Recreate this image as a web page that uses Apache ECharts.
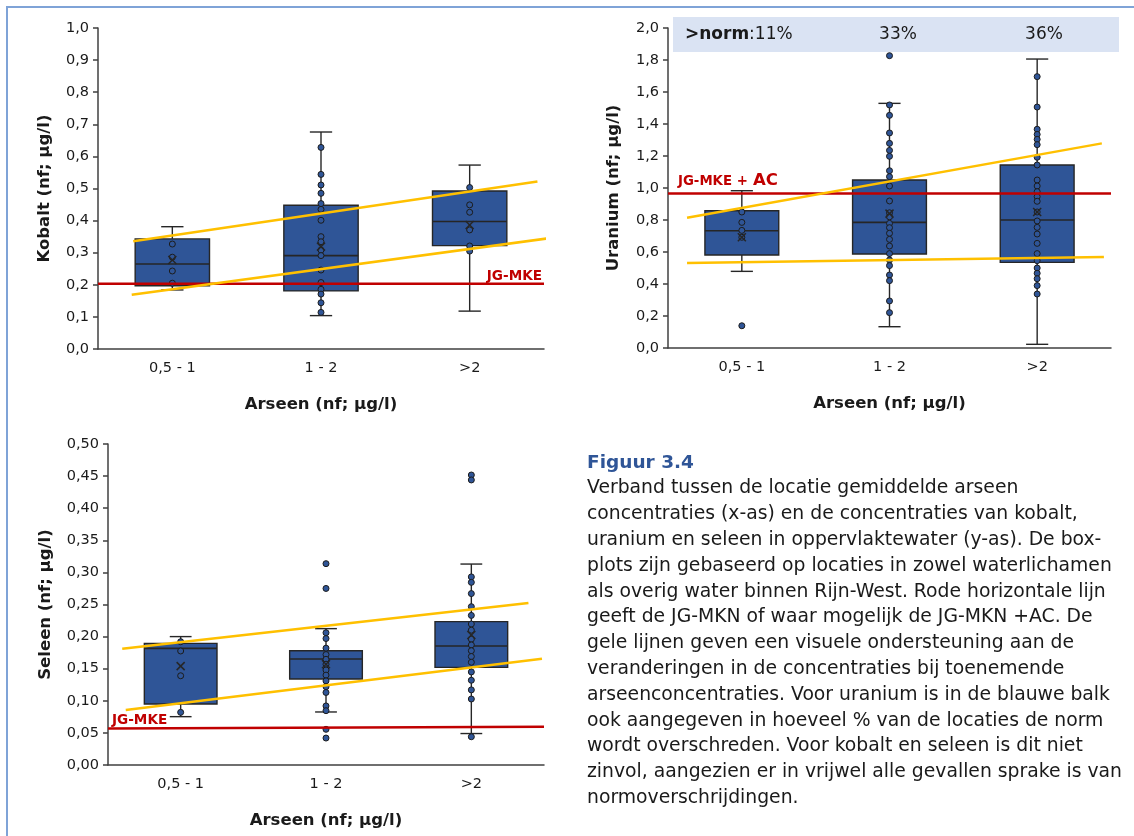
<!DOCTYPE html>
<html><head><meta charset="utf-8">
<script src="https://cdn.jsdelivr.net/npm/echarts@6/dist/echarts.min.js"></script>
<style>html,body{margin:0;padding:0;background:#fff;}#c{width:1134px;height:836px;}</style>
</head><body><div id="c"></div>
<script>
// ---------- DATA ----------
const categories = ['0,5 - 1', '1 - 2', '>2'];

// box statistics per category: [min, q1, median, q3, max, mean]
const kobaltStats = [
  [0.184, 0.197, 0.265, 0.343, 0.381, 0.277],
  [0.104, 0.181, 0.291, 0.448, 0.676, 0.319],
  [0.118, 0.322, 0.397, 0.492, 0.573, 0.386]
];
const kobaltPoints = [
  [0.327, 0.286, 0.243, 0.205],
  [0.628, 0.544, 0.511, 0.485, 0.453, 0.435, 0.401, 0.350, 0.334, 0.308, 0.291, 0.246, 0.207, 0.186, 0.171, 0.144, 0.114],
  [0.503, 0.449, 0.426, 0.371, 0.321, 0.305]
];
const kobaltNorm = [[-0.5, 0.203], [2.5, 0.203]];
const kobaltTrendUpper = [[-0.263, 0.336], [2.456, 0.522]];
const kobaltTrendLower = [[-0.273, 0.169], [2.516, 0.344]];

const uraniumStats = [
  [0.479, 0.581, 0.733, 0.858, 0.983, 0.692],
  [0.133, 0.5875, 0.785, 1.05, 1.529, 0.84],
  [0.023, 0.535, 0.80, 1.144, 1.806, 0.85]
];
const uraniumPoints = [
  [0.85, 0.785, 0.735, 0.692, 0.139],
  [1.827, 1.519, 1.454, 1.344, 1.279, 1.235, 1.198, 1.108, 1.071, 1.0125, 0.919, 0.845, 0.82, 0.779, 0.752, 0.717, 0.679, 0.6375, 0.59, 0.55, 0.515, 0.456, 0.421, 0.294, 0.221],
  [1.696, 1.506, 1.367, 1.335, 1.304, 1.271, 1.192, 1.144, 1.05, 1.0125, 0.977, 0.946, 0.917, 0.85, 0.794, 0.754, 0.7125, 0.654, 0.59, 0.546, 0.5, 0.467, 0.433, 0.39, 0.3375]
];
const uraniumNorm = [[-0.5, 0.965], [2.5, 0.965]];
const uraniumTrendUpper = [[-0.371, 0.814], [2.438, 1.279]];
const uraniumTrendLower = [[-0.371, 0.531], [2.452, 0.569]];
const normPercent = ['11%', '33%', '36%'];

const seleenStats = [
  [0.0753, 0.095, 0.1817, 0.1895, 0.200, 0.154],
  [0.0826, 0.134, 0.165, 0.178, 0.2124, 0.157],
  [0.049, 0.152, 0.1854, 0.2233, 0.313, 0.2025]
];
const seleenPoints = [
  [0.192, 0.1776, 0.139, 0.082],
  [0.3136, 0.275, 0.206, 0.197, 0.182, 0.172, 0.1646, 0.157, 0.148, 0.140, 0.131, 0.122, 0.113, 0.092, 0.0846, 0.0556, 0.042],
  [0.4517, 0.444, 0.293, 0.2845, 0.267, 0.2466, 0.233, 0.2196, 0.210, 0.196, 0.187, 0.178, 0.169, 0.160, 0.145, 0.132, 0.117, 0.1028, 0.044]
];
const seleenNorm = [[-0.5, 0.057], [2.5, 0.0595]];
const seleenTrendUpper = [[-0.402, 0.181], [2.393, 0.2523]];
const seleenTrendLower = [[-0.378, 0.0857], [2.486, 0.1656]];

const captionTitle = 'Figuur 3.4';
const captionLines = [
  'Verband tussen de locatie gemiddelde arseen',
  'concentraties (x-as) en de concentraties van kobalt,',
  'uranium en seleen in oppervlaktewater (y-as). De box-',
  'plots zijn gebaseerd op locaties in zowel waterlichamen',
  'als overig water binnen Rijn-West. Rode horizontale lijn',
  'geeft de JG-MKN of waar mogelijk de JG-MKN +AC. De',
  'gele lijnen geven een visuele ondersteuning aan de',
  'veranderingen in de concentraties bij toenemende',
  'arseenconcentraties. Voor uranium is in de blauwe balk',
  'ook aangegeven in hoeveel % van de locaties de norm',
  'wordt overschreden. Voor kobalt en seleen is dit niet',
  'zinvol, aangezien er in vrijwel alle gevallen sprake is van',
  'normoverschrijdingen.'
];

// ---------- STYLE ----------
const FONT = '"DejaVu Sans", Verdana, sans-serif';
const BOX_FILL = '#2F5597';
const EDGE = '#262626';
const AXIS = '#404040';
const RED = '#C00000';
const YELLOW = '#FFC000';
const TXT = '#1a1a1a';

function boxRender(params, api) {
  const i = api.value(0);
  const mn = api.value(1), q1 = api.value(2), md = api.value(3), q3 = api.value(4), mx = api.value(5);
  const band = api.size([1, 0])[0];
  const bw = band * 0.5, cw = band * 0.15;
  const x = api.coord([i, md])[0];
  const y = v => api.coord([i, v])[1];
  const ls = {stroke: EDGE, lineWidth: 1.4};
  return {type: 'group', children: [
    {type: 'line', shape: {x1: x, y1: y(mx), x2: x, y2: y(q3)}, style: ls},
    {type: 'line', shape: {x1: x - cw / 2, y1: y(mx), x2: x + cw / 2, y2: y(mx)}, style: ls},
    {type: 'line', shape: {x1: x, y1: y(mn), x2: x, y2: y(q1)}, style: ls},
    {type: 'line', shape: {x1: x - cw / 2, y1: y(mn), x2: x + cw / 2, y2: y(mn)}, style: ls},
    {type: 'rect', shape: {x: x - bw / 2, y: y(q3), width: bw, height: y(q1) - y(q3)}, style: {fill: BOX_FILL, stroke: EDGE, lineWidth: 1.4}},
    {type: 'line', shape: {x1: x - bw / 2, y1: y(md), x2: x + bw / 2, y2: y(md)}, style: {stroke: EDGE, lineWidth: 1.6}}
  ]};
}
function meanRender(params, api) {
  const c = api.coord([api.value(0), api.value(6)]);
  const h = 4;
  const ls = {stroke: EDGE, lineWidth: 1.5};
  return {type: 'group', children: [
    {type: 'line', shape: {x1: c[0] - h, y1: c[1] - h, x2: c[0] + h, y2: c[1] + h}, style: ls},
    {type: 'line', shape: {x1: c[0] - h, y1: c[1] + h, x2: c[0] + h, y2: c[1] - h}, style: ls}
  ]};
}

const grids = [
  {left: 98, top: 28, width: 446, height: 321},
  {left: 668, top: 28, width: 443, height: 320},
  {left: 108, top: 444, width: 436, height: 321}
];
const panels = [
  {stats: kobaltStats, points: kobaltPoints, norm: kobaltNorm, up: kobaltTrendUpper, lo: kobaltTrendLower, max: 1, interval: 0.1, dec: 1, name: 'Kobalt (nf; µg/l)', gap: 45},
  {stats: uraniumStats, points: uraniumPoints, norm: uraniumNorm, up: uraniumTrendUpper, lo: uraniumTrendLower, max: 2, interval: 0.2, dec: 1, name: 'Uranium (nf; µg/l)', gap: 46},
  {stats: seleenStats, points: seleenPoints, norm: seleenNorm, up: seleenTrendUpper, lo: seleenTrendLower, max: 0.5, interval: 0.05, dec: 2, name: 'Seleen (nf; µg/l)', gap: 54}
];

const xAxis = [], yAxis = [], series = [];
panels.forEach((p, k) => {
  xAxis.push({
    type: 'category', gridIndex: k, data: categories, boundaryGap: true,
    axisLine: {onZero: false, lineStyle: {color: AXIS, width: 1.5}},
    axisTick: {inside: true, length: 5, lineStyle: {color: AXIS, width: 1.5}},
    axisLabel: {color: TXT, fontSize: 14.5, fontFamily: FONT, margin: 12},
    name: 'Arseen (nf; µg/l)', nameLocation: 'middle', nameGap: 47,
    nameTextStyle: {color: TXT, fontSize: 16.5, fontWeight: 'bold', fontFamily: FONT},
    splitLine: {show: false}
  });
  xAxis.push({type: 'value', gridIndex: k, min: -0.5, max: 2.5, show: false, axisLine: {onZero: false}});
  yAxis.push({
    type: 'value', gridIndex: k, min: 0, max: p.max, interval: p.interval, position: 'left',
    axisLine: {show: true, onZero: false, lineStyle: {color: AXIS, width: 1.5}},
    axisTick: {show: true, inside: false, length: 5, lineStyle: {color: AXIS, width: 1.5}},
    axisLabel: {color: TXT, fontSize: 14.5, fontFamily: FONT, margin: 9,
      formatter: v => v.toFixed(p.dec).replace('.', ',')},
    splitLine: {show: false},
    name: p.name, nameLocation: 'middle', nameGap: p.gap, nameRotate: 90,
    nameTextStyle: {color: TXT, fontSize: 16.5, fontWeight: 'bold', fontFamily: FONT}
  });
  const statData = p.stats.map((s, i) => [i].concat(s));
  series.push({type: 'custom', xAxisIndex: 2 * k, yAxisIndex: k, data: statData, renderItem: boxRender, z: 2, silent: true});
  const pts = [];
  p.points.forEach((arr, i) => arr.forEach(v => pts.push([i, v])));
  series.push({type: 'scatter', xAxisIndex: 2 * k, yAxisIndex: k, data: pts, symbol: 'circle', symbolSize: 6,
    itemStyle: {color: BOX_FILL, borderColor: '#1c1c1c', borderWidth: 1, opacity: 1}, z: 3, silent: true});
  series.push({type: 'custom', xAxisIndex: 2 * k, yAxisIndex: k, data: statData, renderItem: meanRender, z: 4, silent: true});
  series.push({type: 'line', xAxisIndex: 2 * k + 1, yAxisIndex: k, data: p.norm, symbol: 'none', clip: false,
    lineStyle: {color: RED, width: 2.5}, z: 5, silent: true});
  [p.up, p.lo].forEach(d => series.push({type: 'line', xAxisIndex: 2 * k + 1, yAxisIndex: k, data: d, symbol: 'none', clip: false,
    lineStyle: {color: YELLOW, width: 2.5}, z: 6, silent: true}));
});

const graphic = [
  {type: 'rect', z: -10, shape: {x: 7, y: 7, width: 3000, height: 3000}, style: {fill: 'none', stroke: '#7FA3D7', lineWidth: 2}},
  {type: 'rect', z: 0, shape: {x: 673, y: 17, width: 446, height: 35}, style: {fill: '#DAE3F3'}},
  {type: 'text', z: 10, x: 685, y: 35, style: {text: '{b|>norm}{r|:' + normPercent[0] + '}', verticalAlign: 'middle', align: 'left',
    rich: {b: {fontWeight: 'bold', fontSize: 17, fontFamily: FONT, fill: TXT}, r: {fontSize: 17, fontFamily: FONT, fill: TXT}}}},
  {type: 'text', z: 10, x: 898, y: 35, style: {text: normPercent[1], fontSize: 17, fontFamily: FONT, fill: TXT, align: 'center', verticalAlign: 'middle'}},
  {type: 'text', z: 10, x: 1044, y: 35, style: {text: normPercent[2], fontSize: 17, fontFamily: FONT, fill: TXT, align: 'center', verticalAlign: 'middle'}},
  {type: 'text', z: 10, x: 542, y: 276, style: {text: 'JG-MKE', fontSize: 13.6, fontWeight: 'bold', fontFamily: FONT, fill: RED, align: 'right', verticalAlign: 'middle'}},
  {type: 'text', z: 10, x: 678, y: 182, style: {text: 'JG-MKE +', fontSize: 13.3, fontWeight: 'bold', fontFamily: FONT, fill: RED, align: 'left', verticalAlign: 'middle'}},
  {type: 'text', z: 10, x: 753, y: 180.5, style: {text: 'AC', fontSize: 16.5, fontWeight: 'bold', fontFamily: FONT, fill: RED, align: 'left', verticalAlign: 'middle'}},
  {type: 'text', z: 10, x: 112, y: 720, style: {text: 'JG-MKE', fontSize: 13.6, fontWeight: 'bold', fontFamily: FONT, fill: RED, align: 'left', verticalAlign: 'middle'}},
  {type: 'text', z: 10, x: 587, y: 463, style: {text: captionTitle, fontSize: 18.5, fontWeight: 'bold', fontFamily: FONT, fill: '#2F5597', align: 'left', verticalAlign: 'middle'}}
];
captionLines.forEach((t, i) => graphic.push({type: 'text', z: 10, x: 587, y: 488.3 + i * 25.83,
  style: {text: t, fontSize: 18.8, fontFamily: FONT, fill: TXT, align: 'left', verticalAlign: 'middle'}}));

const chart = echarts.init(document.getElementById('c'), null, {renderer: 'canvas'});
chart.setOption({
  animation: false,
  backgroundColor: '#ffffff',
  grid: grids.map(g => Object.assign({outerBoundsMode: 'none', containLabel: false}, g)),
  xAxis, yAxis, series, graphic
});
</script></body></html>
